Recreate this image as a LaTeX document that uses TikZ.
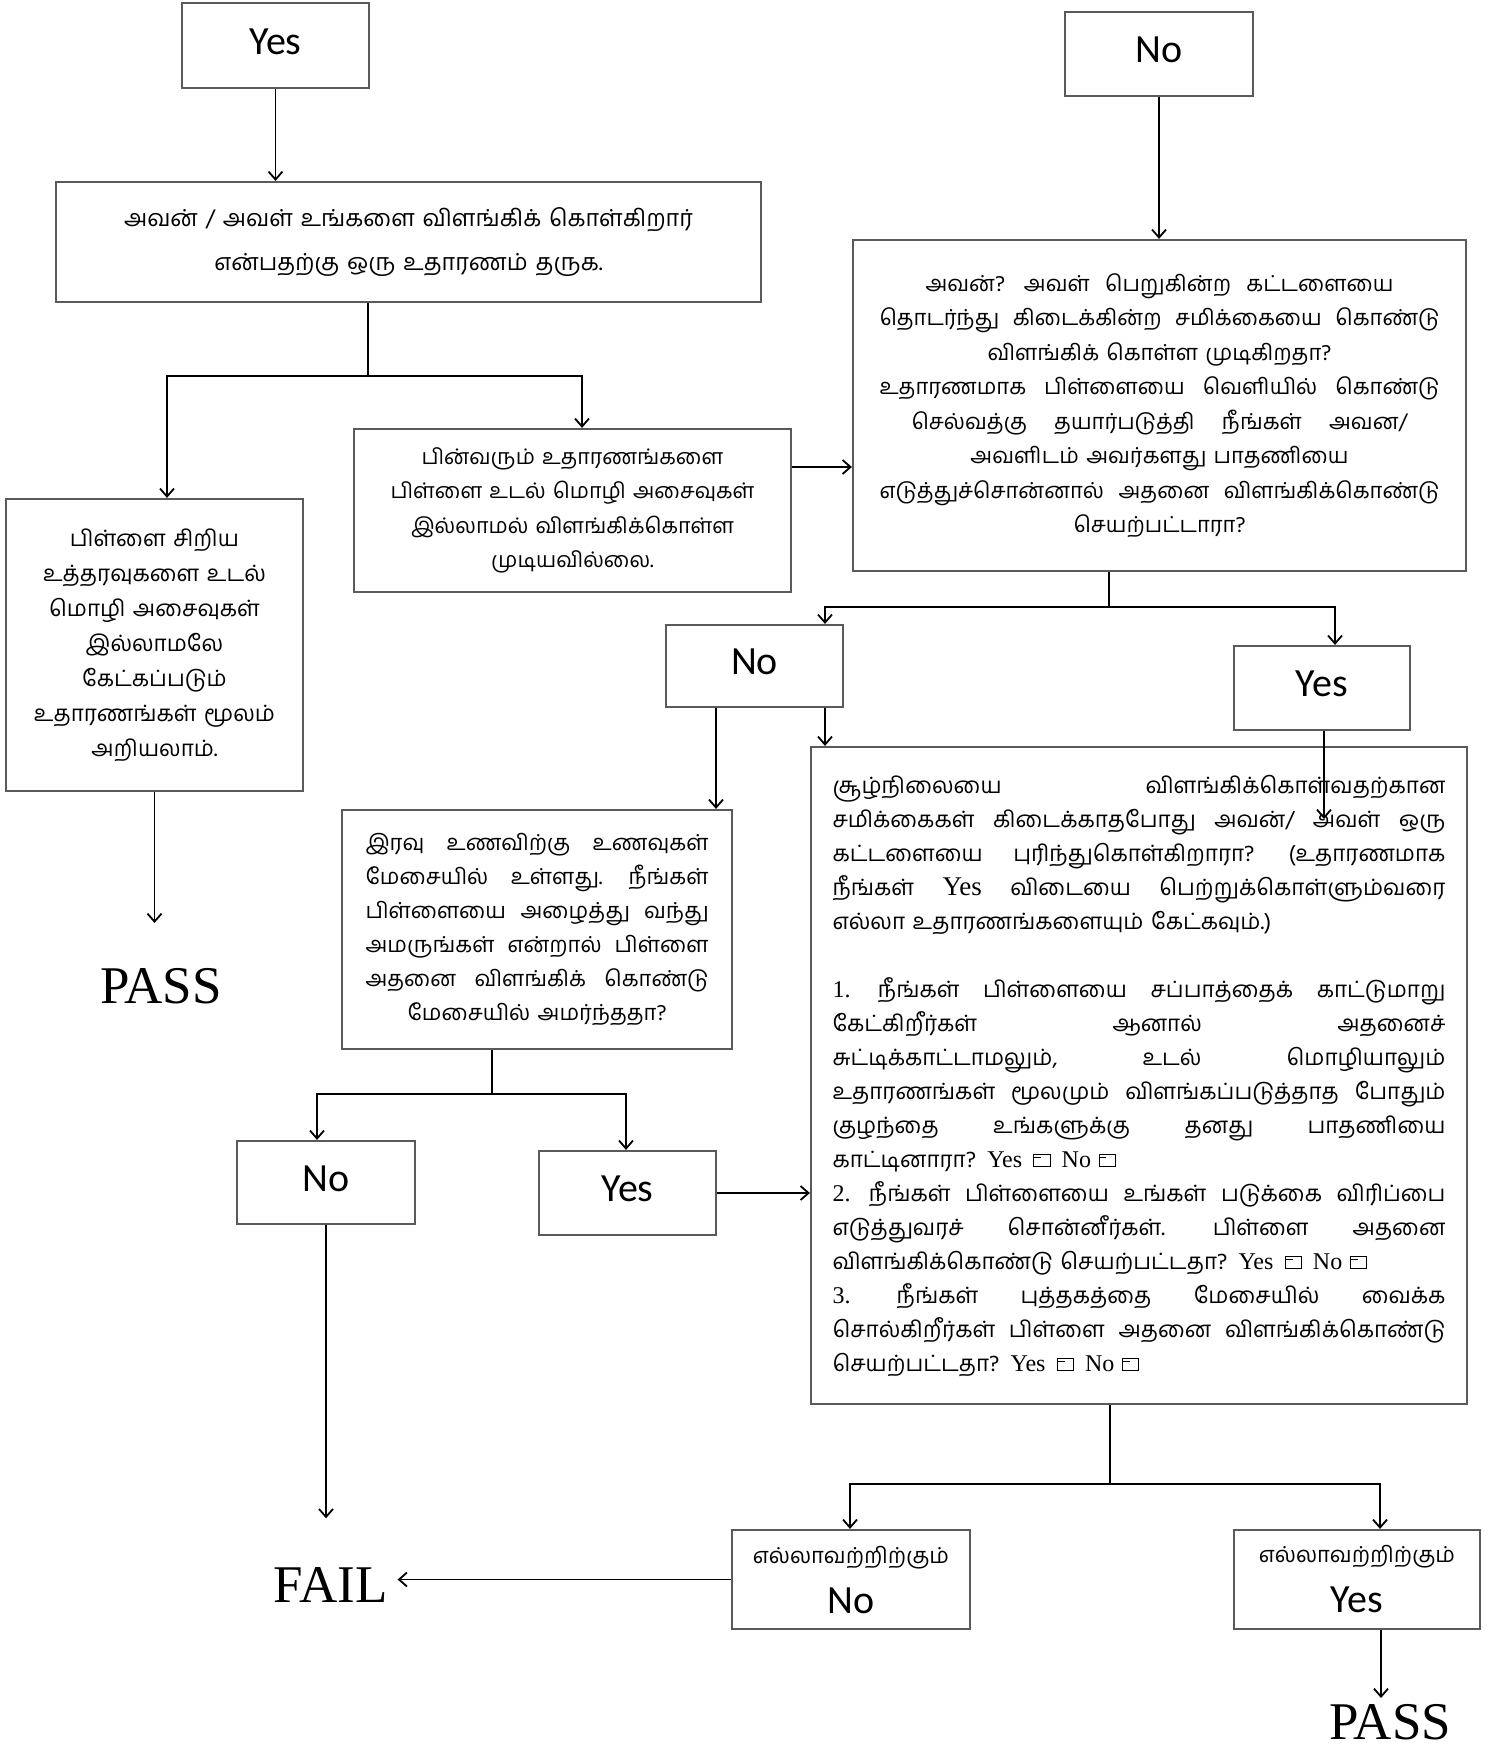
\documentclass[tikz,border=0pt]{standalone}
\usepackage{fontspec}
\setmainfont{Liberation Serif}
\newfontfamily\tamf[Script=Tamil]{Hind Madurai}
\newfontfamily\calf{Carlito}
\usetikzlibrary{arrows.meta}
\definecolor{boxgray}{RGB}{90,90,90}
\newcommand\jl[2]{\leavevmode\hbox to #1{#2}}
\newcommand\fb{\leavevmode\hbox{\vrule width 0.9pt height 13pt depth 0pt\vbox to 13pt{\hrule height 0.9pt width 15.2pt\vskip 1.7pt\hrule height 0.9pt width 7pt\vfill\hrule height 0.9pt width 15.2pt}\vrule width 0.9pt height 13pt depth 0pt}}
\newcommand\latn[1]{{\rmfamily\fontsize{24}{34}\selectfont #1}}
\newcommand\hf{\hfill}
\begin{document}
\begin{tikzpicture}[x=1pt,y=-1pt,
  box/.style={draw=boxgray,line width=2.2pt,inner sep=0pt,align=center},
  yn/.style={box,font=\calf\fontsize{40}{48}\selectfont,text depth=8pt},
  ln/.style={line width=1.8pt},
  arr/.style={ln,-{Straight Barb[length=8pt,width=14pt,line width=1.8pt]}},
  big/.style={font=\fontsize{53}{60}\selectfont,inner sep=0pt}]
\useasboundingbox[fill=white] (0,0) rectangle (1499,1748);

% nodes
\node[yn,minimum width=187pt,minimum height=85pt] (yes1) at (275.5,45.5) {Yes};
\node[yn,minimum width=188pt,minimum height=84pt] (no1) at (1159,54) {No};

\node[box,minimum width=705pt,minimum height=120pt,text width=680pt,
      font=\tamf\fontsize{23.4}{43.5}\selectfont] (box1) at (408.5,242)
  {அவன் / அவள் உங்களை விளங்கிக் கொள்கிறார்\\என்பதற்கு ஒரு உதாரணம் தருக.};

\node[box,minimum width=613pt,minimum height=331pt,text width=590pt,
      font=\tamf\fontsize{22}{34.5}\selectfont] (rbox) at (1159.5,405.5)
  {\jl{468pt}{அவன்? \hf அவள் \hf பெறுகின்ற \hf கட்டளையை}\\
   \jl{560pt}{தொடர்ந்து \hf கிடைக்கின்ற \hf சமிக்கையை \hf கொண்டு}\\
   விளங்கிக் கொள்ள முடிகிறதா?\\
   \jl{560pt}{உதாரணமாக \hf பிள்ளையை \hf வெளியில் \hf கொண்டு}\\
   \jl{496pt}{செல்வத்கு \hf தயார்படுத்தி \hf நீங்கள் \hf அவன/}\\
   அவளிடம் அவர்களது பாதணியை\\
   \jl{560pt}{எடுத்துச்சொன்னால் \hf அதனை \hf விளங்கிக்கொண்டு}\\
   செயற்பட்டாரா?};

\node[box,minimum width=437pt,minimum height=163pt,text width=420pt,
      font=\tamf\fontsize{21.5}{34.5}\selectfont] (mbox) at (572.5,510.5)
  {பின்வரும் உதாரணங்களை\\பிள்ளை உடல் மொழி அசைவுகள்\\இல்லாமல் விளங்கிக்கொள்ள\\முடியவில்லை.};

\node[box,minimum width=297pt,minimum height=292pt,text width=280pt,
      font=\tamf\fontsize{22.5}{35}\selectfont] (lbox) at (154.5,645)
  {பிள்ளை சிறிய\\உத்தரவுகளை உடல்\\மொழி அசைவுகள்\\இல்லாமலே\\கேட்கப்படும்\\உதாரணங்கள் மூலம்\\அறியலாம்.};

\node[yn,minimum width=177pt,minimum height=82pt] (no2) at (754.5,666) {No};
\node[yn,minimum width=176pt,minimum height=84pt] (yes2) at (1322,688) {Yes};

\node[box,minimum width=390pt,minimum height=239pt,text width=343pt,
      font=\tamf\fontsize{22}{34}\selectfont] (ibox) at (537,929.5)
  {\jl{343pt}{இரவு \hf உணவிற்கு \hf உணவுகள்}\\
   \jl{343pt}{மேசையில் \hf உள்ளது. \hf நீங்கள்}\\
   \jl{343pt}{பிள்ளையை \hf அழைத்து \hf வந்து}\\
   \jl{343pt}{அமருங்கள் \hf என்றால் \hf பிள்ளை}\\
   \jl{343pt}{அதனை \hf விளங்கிக் \hf கொண்டு}\\
   மேசையில் அமர்ந்ததா?};

\node[box,minimum width=656pt,minimum height=657pt,text width=613pt,align=left,
      font=\tamf\fontsize{22.5}{34}\selectfont] (bigbox) at (1139,1075.5)
  {\jl{613pt}{சூழ்நிலையை \hf விளங்கிக்கொள்வதற்கான}\\
   \jl{613pt}{சமிக்கைகள் \hf கிடைக்காதபோது \hf அவன்/ \hf அவள் \hf ஒரு}\\
   \jl{613pt}{கட்டளையை \hf புரிந்துகொள்கிறாரா? \hf (உதாரணமாக}\\
   \jl{613pt}{நீங்கள் \hf {\rmfamily\fontsize{27}{34}\selectfont Yes} \hf விடையை \hf பெற்றுக்கொள்ளும்வரை}\\
   எல்லா உதாரணங்களையும் கேட்கவும்.)\\[34pt]
   \jl{613pt}{\latn{1.} \hf நீங்கள் \hf பிள்ளையை \hf சப்பாத்தைக் \hf காட்டுமாறு}\\
   \jl{613pt}{கேட்கிறீர்கள் \hf ஆனால் \hf அதனைச்}\\
   \jl{613pt}{சுட்டிக்காட்டாமலும், \hf உடல் \hf மொழியாலும்}\\
   \jl{613pt}{உதாரணங்கள் \hf மூலமும் \hf விளங்கப்படுத்தாத \hf போதும்}\\
   \jl{613pt}{குழந்தை \hf உங்களுக்கு \hf தனது \hf பாதணியை}\\
   காட்டினாரா?\latn{ Yes}\enspace\fb\enspace\latn{No} \fb\\
   \jl{613pt}{\latn{2.} \hf நீங்கள் \hf பிள்ளையை \hf உங்கள் \hf படுக்கை \hf விரிப்பை}\\
   \jl{613pt}{எடுத்துவரச் \hf சொன்னீர்கள். \hf பிள்ளை \hf அதனை}\\
   விளங்கிக்கொண்டு செயற்பட்டதா?\latn{ Yes}\enspace\fb\enspace\latn{No} \fb\\
   \jl{613pt}{\latn{3.} \hf நீங்கள் \hf புத்தகத்தை \hf மேசையில் \hf வைக்க}\\
   \jl{613pt}{சொல்கிறீர்கள் \hf பிள்ளை \hf அதனை \hf விளங்கிக்கொண்டு}\\
   செயற்பட்டதா?\latn{ Yes}\enspace\fb\enspace\latn{No} \fb};

\node[yn,minimum width=178pt,minimum height=83pt] (no3) at (326,1182.5) {No};
\node[yn,minimum width=177pt,minimum height=84pt] (yes3) at (627.5,1193) {Yes};

\node[box,minimum width=238pt,minimum height=99pt,font=\fontsize{22}{50}\selectfont] (no4) at (851,1579.5)
  {{\tamf எல்லாவற்றிற்கும்}\\{\calf\fontsize{40}{50}\selectfont No}};
\node[box,minimum width=246pt,minimum height=99pt,font=\fontsize{22}{50}\selectfont] (yes4) at (1357,1579.5)
  {{\tamf எல்லாவற்றிற்கும்}\\{\calf\fontsize{40}{50}\selectfont Yes}};

\node[big] (pass1) at (161,986) {PASS};
\node[big] (fail) at (330.5,1585) {FAIL};
\node[big] (pass2) at (1390,1722) {PASS};

% coordinates
\coordinate (j1) at (368,376);
\coordinate (j1l) at (167,376);
\coordinate (j1r) at (582,376);
\coordinate (h1) at (0,467);
\coordinate (j2) at (1109,607);
\coordinate (j2l) at (825,607);
\coordinate (j2r) at (1335,607);
\coordinate (c716) at (716,0);
\coordinate (y2e) at (1324,819);
\coordinate (j3) at (492,1094);
\coordinate (j3l) at (317,1094);
\coordinate (j3r) at (626,1094);
\coordinate (j4) at (1110,1484);
\coordinate (j4l) at (850,1484);
\coordinate (j4r) at (1380,1484);
\coordinate (c1381) at (1381,0);

% connectors
\draw[arr] (yes1.south) -- (yes1.south |- box1.north);
\draw[arr] (no1.south) -- (no1.south |- rbox.north);
\draw[ln] (box1.south -| j1) -- (j1);
\draw[arr] (j1) -- (j1l) -- (j1l |- lbox.north);
\draw[arr] (j1) -- (j1r) -- (j1r |- mbox.north);
\draw[arr] (mbox.east |- h1) -- (rbox.west |- h1);
\draw[arr,shorten >=45pt] (lbox.south) -- (lbox.south |- pass1.north);
\draw[ln] (rbox.south -| j2) -- (j2);
\draw[arr] (j2) -- (j2l) -- (j2l |- no2.north);
\draw[arr] (j2) -- (j2r) -- (j2r |- yes2.north);
\draw[arr] (no2.south -| j2l) -- (j2l |- bigbox.north);
\draw[arr] (no2.south -| c716) -- (c716 |- ibox.north);
\draw[arr] (yes2.south -| y2e) -- (y2e);
\draw[ln] (ibox.south -| j3) -- (j3);
\draw[arr] (j3) -- (j3l) -- (j3l |- no3.north);
\draw[arr] (j3) -- (j3r) -- (j3r |- yes3.north);
\draw[arr] (yes3.east) -- (bigbox.west |- yes3.east);
\draw[arr,shorten >=49pt] (no3.south) -- (no3.south |- fail.north);
\draw[arr,shorten >=10pt] (no4.west) -- (fail.east |- no4.west);
\draw[ln] (bigbox.south -| j4) -- (j4);
\draw[arr] (j4) -- (j4l) -- (j4l |- no4.north);
\draw[arr] (j4) -- (j4r) -- (j4r |- yes4.north);
\draw[arr,shorten >=6pt] (yes4.south -| c1381) -- (c1381 |- pass2.north);
\end{tikzpicture}
\end{document}
